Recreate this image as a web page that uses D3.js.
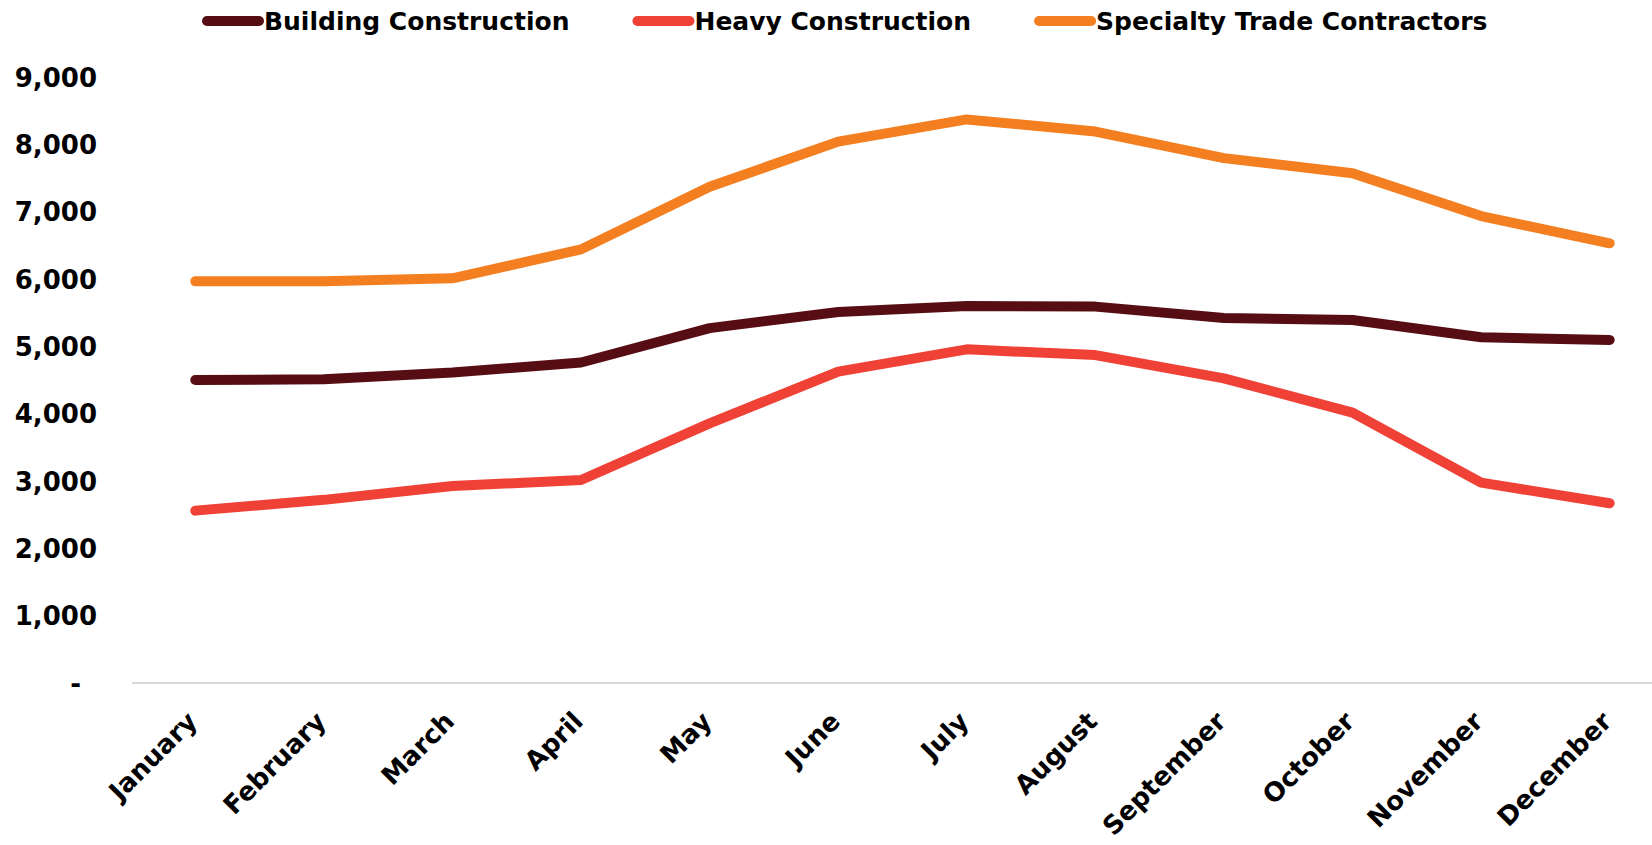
<!DOCTYPE html>
<html><head><meta charset="utf-8">
<script src="https://cdn.jsdelivr.net/npm/d3@7"></script>
<style>
html,body{margin:0;padding:0;background:#fff;}
svg{display:block;font-family:"DejaVu Sans",sans-serif;font-weight:bold;}
</style></head>
<body><svg id="c" width="1652" height="845"></svg>
<script>
const months = ["January","February","March","April","May","June","July","August","September","October","November","December"];
const building = [4500,4510,4610,4760,5270,5510,5600,5590,5420,5390,5135,5095];
const heavy = [2560,2720,2925,3015,3855,4625,4955,4870,4525,4015,2975,2670];
const specialty = [5965,5965,6010,6440,7370,8040,8370,8190,7795,7570,6935,6530];
const seriesNames = ["Building Construction","Heavy Construction","Specialty Trade Contractors"];
const seriesColors = ["#570d14","#ef4136","#f47f20"];
const yTicks = [0,1000,2000,3000,4000,5000,6000,7000,8000,9000];

const series = [
  {name: seriesNames[0], values: building, color: seriesColors[0]},
  {name: seriesNames[1], values: heavy, color: seriesColors[1]},
  {name: seriesNames[2], values: specialty, color: seriesColors[2]}
];

const FONT = "DejaVu Sans";
const svg = d3.select("#c");
const x = d3.scalePoint().domain(months).range([131, 1674]).padding(0.5);
const y = d3.scaleLinear().domain([0, 9000]).range([683, 77]);

// baseline
svg.append("line").attr("x1", 132).attr("x2", 1652).attr("y1", y(0)).attr("y2", y(0))
  .attr("stroke", "#d9d9d9").attr("stroke-width", 2);

// y axis labels
const fmt = d => d === 0 ? "-" : d3.format(",")(d);
const yAxis = d3.axisLeft(y).tickValues(yTicks).tickFormat(fmt).tickSize(0).tickPadding(0);
const gy = svg.append("g").attr("transform", "translate(97,0)").call(yAxis);
gy.select(".domain").remove();
gy.selectAll("text").attr("font-size", 26).attr("font-family", FONT).attr("font-weight", "bold").attr("fill", "#000")
  .attr("dy", "0.35em").attr("x", d => d === 0 ? -16 : 0);

// x axis labels
const xAxis = d3.axisBottom(x).tickSize(0).tickPadding(0);
const gx = svg.append("g").attr("transform", `translate(0,${y(0)})`).call(xAxis);
gx.select(".domain").remove();
gx.selectAll("text").attr("font-size", 26).attr("font-family", FONT).attr("font-weight", "bold").attr("fill", "#000")
  .attr("text-anchor", "end").attr("dy", null).attr("y", 0)
  .attr("transform", "translate(3,40) rotate(-45)");

// lines
const line = d3.line().x((d, i) => x(months[i])).y(d => y(d));
svg.selectAll("path.series").data(series).enter().append("path")
  .attr("class", "series").attr("d", d => line(d.values))
  .attr("fill", "none").attr("stroke", d => d.color).attr("stroke-width", 10)
  .attr("stroke-linecap", "round").attr("stroke-linejoin", "round");

// legend
const legend = svg.append("g");
let lx = 203;
series.forEach(s => {
  const g = legend.append("g").attr("transform", `translate(${lx},21)`);
  g.append("line").attr("x1", 4).attr("x2", 56).attr("y1", 0).attr("y2", 0)
    .attr("stroke", s.color).attr("stroke-width", 10).attr("stroke-linecap", "round");
  const t = g.append("text").attr("x", 61).attr("y", 0).attr("dy", "0.35em")
    .attr("font-size", 25).attr("font-family", FONT).attr("font-weight", "bold").attr("fill", "#000").text(s.name);
  lx += 61 + t.node().getComputedTextLength() + 64;
});
</script></body></html>
